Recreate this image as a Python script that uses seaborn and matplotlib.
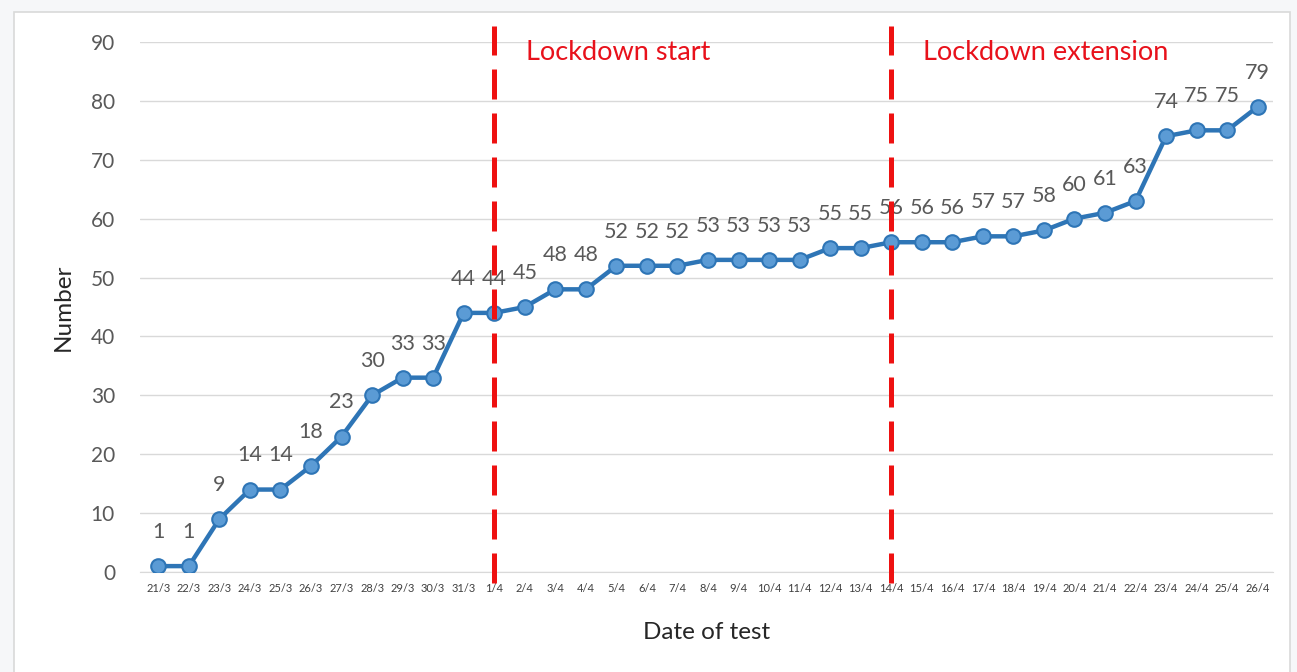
import matplotlib
matplotlib.use("Agg")
import matplotlib.pyplot as plt
import seaborn as sns
import pandas as pd
from matplotlib.patches import Rectangle

dates = ["21/3", "22/3", "23/3", "24/3", "25/3", "26/3", "27/3", "28/3", "29/3", "30/3", "31/3",
         "1/4", "2/4", "3/4", "4/4", "5/4", "6/4", "7/4", "8/4", "9/4", "10/4", "11/4", "12/4",
         "13/4", "14/4", "15/4", "16/4", "17/4", "18/4", "19/4", "20/4", "21/4", "22/4", "23/4",
         "24/4", "25/4", "26/4"]
cases = [1, 1, 9, 14, 14, 18, 23, 30, 33, 33, 44, 44, 45, 48, 48, 52, 52, 52, 53, 53, 53, 53,
         55, 55, 56, 56, 56, 57, 57, 58, 60, 61, 63, 74, 75, 75, 79]
events = ["1/4", "14/4"]
event_labels = ["Lockdown start", "Lockdown extension"]

df = pd.DataFrame({"date": dates, "number": cases})
df["pos"] = range(len(df))

sns.set_style("white")
plt.rcParams["font.family"] = ["Lato", "DejaVu Sans"]

fig = plt.figure(figsize=(12.97, 6.72), dpi=100)
fig.patch.set_facecolor("#f6f7f9")
# white chart area with light border, kept behind the axes
fig.patches.append(Rectangle((14 / 1297, -0.01), 1276 / 1297, 1 - 12 / 672 + 0.01,
                             transform=fig.transFigure, facecolor="white",
                             edgecolor="#d9d9d9", linewidth=1.2, zorder=-5))

ax = fig.add_axes([140 / 1297, 1 - 572 / 672, (1273 - 140) / 1297, 530 / 672])
ax.set_facecolor("white")

sns.lineplot(data=df, x="pos", y="number", ax=ax, color="#2e75b6", linewidth=3.2,
             marker="o", markersize=10.5, markerfacecolor="#5b9bd5",
             markeredgecolor="#2e75b6", markeredgewidth=1.5, zorder=3)

# data labels above each point
for x, y in zip(df["pos"], df["number"]):
    ax.text(x, y + 5.8, str(y), ha="center", va="center", fontsize=15.5, color="#595959")

for ev, lab in zip(events, event_labels):
    xi = dates.index(ev)
    ax.axvline(xi, ymin=-0.02, ymax=1.03, color="#ee1111", linewidth=3.6,
               dashes=(6, 2.8), clip_on=False, zorder=4)
    ax.text(xi + 1.05, 88.3, lab, color="#e8111b", fontsize=19.5, ha="left", va="center")

ax.set_xlim(-0.6, 36.5)
ax.set_ylim(0, 90)
ax.set_yticks(range(0, 91, 10))
ax.set_xticks(df["pos"])
ax.set_xticklabels(dates, fontsize=8, color="#404040")
ax.tick_params(axis="y", labelsize=15, colors="#595959", length=0, pad=18)
ax.tick_params(axis="x", length=0, pad=8)
ax.grid(axis="y", color="#d9d9d9", linewidth=1)
sns.despine(ax=ax, left=True, top=True, right=True, bottom=False)
ax.spines["bottom"].set_color("#d9d9d9")
ax.set_xlabel("Date of test", fontsize=17.5, color="#262626", labelpad=20)
ax.set_ylabel("Number", fontsize=17.5, color="#262626", labelpad=12)

fig.savefig("out.png", dpi=100)
